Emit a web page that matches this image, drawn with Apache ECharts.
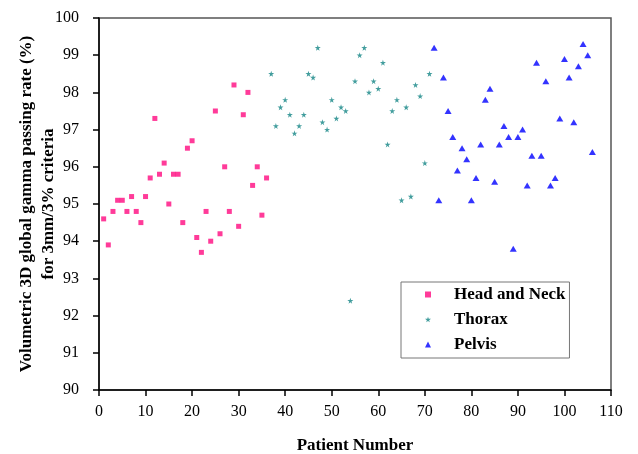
<!DOCTYPE html>
<html>
<head>
<meta charset="utf-8">
<script src="https://cdn.jsdelivr.net/npm/echarts@6/dist/echarts.min.js"></script>
<style>
  html, body { margin: 0; padding: 0; background: #fff; }
  #chart { width: 638px; height: 454px; }
</style>
</head>
<body>
<div id="chart"></div>
<script>
  // gamma passing rates, patients numbered consecutively per site
  var hnFirstPatient = 1
  var headNeck = [94.6, 93.9, 94.8, 95.1, 95.1, 94.8, 95.2, 94.8, 94.5, 95.2,
    95.7, 97.3, 95.8, 96.1, 95.0, 95.8, 95.8, 94.5, 96.5, 96.7,
    94.1, 93.7, 94.8, 94.0, 97.5, 94.2, 96.0, 94.8, 98.2, 94.4,
    97.4, 98.0, 95.5, 96.0, 94.7, 95.7]

  var thoraxFirstPatient = 37
  var thorax = [98.5, 97.1, 97.6, 97.8, 97.4, 96.9, 97.1, 97.4, 98.5, 98.4,
    99.2, 97.2, 97.0, 97.8, 97.3, 97.6, 97.5, 92.4, 98.3, 99.0,
    99.2, 98.0, 98.3, 98.1, 98.8, 96.6, 97.5, 97.8, 95.1, 97.6,
    95.2, 98.2, 97.9, 96.1, 98.5]

  var pelvisFirstPatient = 72
  var pelvis = [99.2, 95.1, 98.4, 97.5, 96.8, 95.9, 96.5, 96.2, 95.1, 95.7,
    96.6, 97.8, 98.1, 95.6, 96.6, 97.1, 96.8, 93.8, 96.8, 97.0,
    95.5, 96.3, 98.8, 96.3, 98.3, 95.5, 95.7, 97.3, 98.9, 98.4,
    97.2, 98.7, 99.3, 99.0, 96.4]

  var seriesNames = ['Head and Neck', 'Thorax', 'Pelvis']

  function toPoints (first, values) {
    return values.map(function (v, i) { return [first + i, v] })
  }

  var starPath = 'path://M50,0L61,35L98,35L68,57L79,91L50,70L21,91L32,57L2,35L39,35Z'
  var serif = '"Liberation Serif", "Times New Roman", serif'

  var chart = echarts.init(document.getElementById('chart'), null, { renderer: 'canvas' })
  chart.setOption({
    animation: false,
    backgroundColor: '#fff',
    textStyle: { fontFamily: serif },
    grid: {
      left: 99, right: 27, top: 18, bottom: 64,
      outerBoundsMode: 'none',
      show: true, borderColor: '#555', borderWidth: 1.5
    },
    legend: {
      data: seriesNames,
      orient: 'vertical',
      left: 401, top: 282,
      padding: [4, 4, 5, 24],
      itemWidth: 6, itemHeight: 6, itemGap: 8,
      borderColor: '#777', borderWidth: 1,
      textStyle: {
        fontFamily: serif, fontWeight: 'bold', fontSize: 17, color: '#000',
        lineHeight: 16, padding: [0, 0, 0, 18]
      }
    },
    xAxis: {
      type: 'value',
      min: 0, max: 110, interval: 10,
      name: 'Patient Number',
      nameLocation: 'middle', nameGap: 47, nameMoveOverlap: false,
      nameTextStyle: { fontFamily: serif, fontWeight: 'bold', fontSize: 17, color: '#000' },
      axisLine: { lineStyle: { color: '#000', width: 1.5 } },
      axisTick: { show: true, length: 6, lineStyle: { color: '#000', width: 1.5 } },
      axisLabel: { margin: 14, fontFamily: serif, fontSize: 16, color: '#000' },
      splitLine: { show: false }
    },
    yAxis: {
      type: 'value',
      min: 90, max: 100, interval: 1,
      name: 'Volumetric 3D global gamma passing rate (%)\nfor 3mm/3% criteria',
      nameLocation: 'middle', nameGap: 39, nameRotate: 90, nameMoveOverlap: false,
      nameTextStyle: { fontFamily: serif, fontWeight: 'bold', fontSize: 17, color: '#000', lineHeight: 22 },
      axisLine: { show: true, lineStyle: { color: '#000', width: 1.5 } },
      axisTick: { show: true, length: 6, lineStyle: { color: '#000', width: 1.5 } },
      axisLabel: { margin: 20, fontFamily: serif, fontSize: 16, color: '#000' },
      splitLine: { show: false }
    },
    series: [{
      name: seriesNames[0],
      type: 'scatter',
      symbol: 'rect',
      symbolSize: 5,
      itemStyle: { color: '#ff0a80' },
      data: toPoints(hnFirstPatient, headNeck)
    }, {
      name: seriesNames[1],
      type: 'scatter',
      symbol: starPath,
      symbolSize: 6,
      itemStyle: { color: '#138585' },
      data: toPoints(thoraxFirstPatient, thorax)
    }, {
      name: seriesNames[2],
      type: 'scatter',
      symbol: 'triangle',
      symbolSize: [7, 6],
      itemStyle: { color: '#0000ff' },
      data: toPoints(pelvisFirstPatient, pelvis)
    }]
  })
</script>
</body>
</html>
